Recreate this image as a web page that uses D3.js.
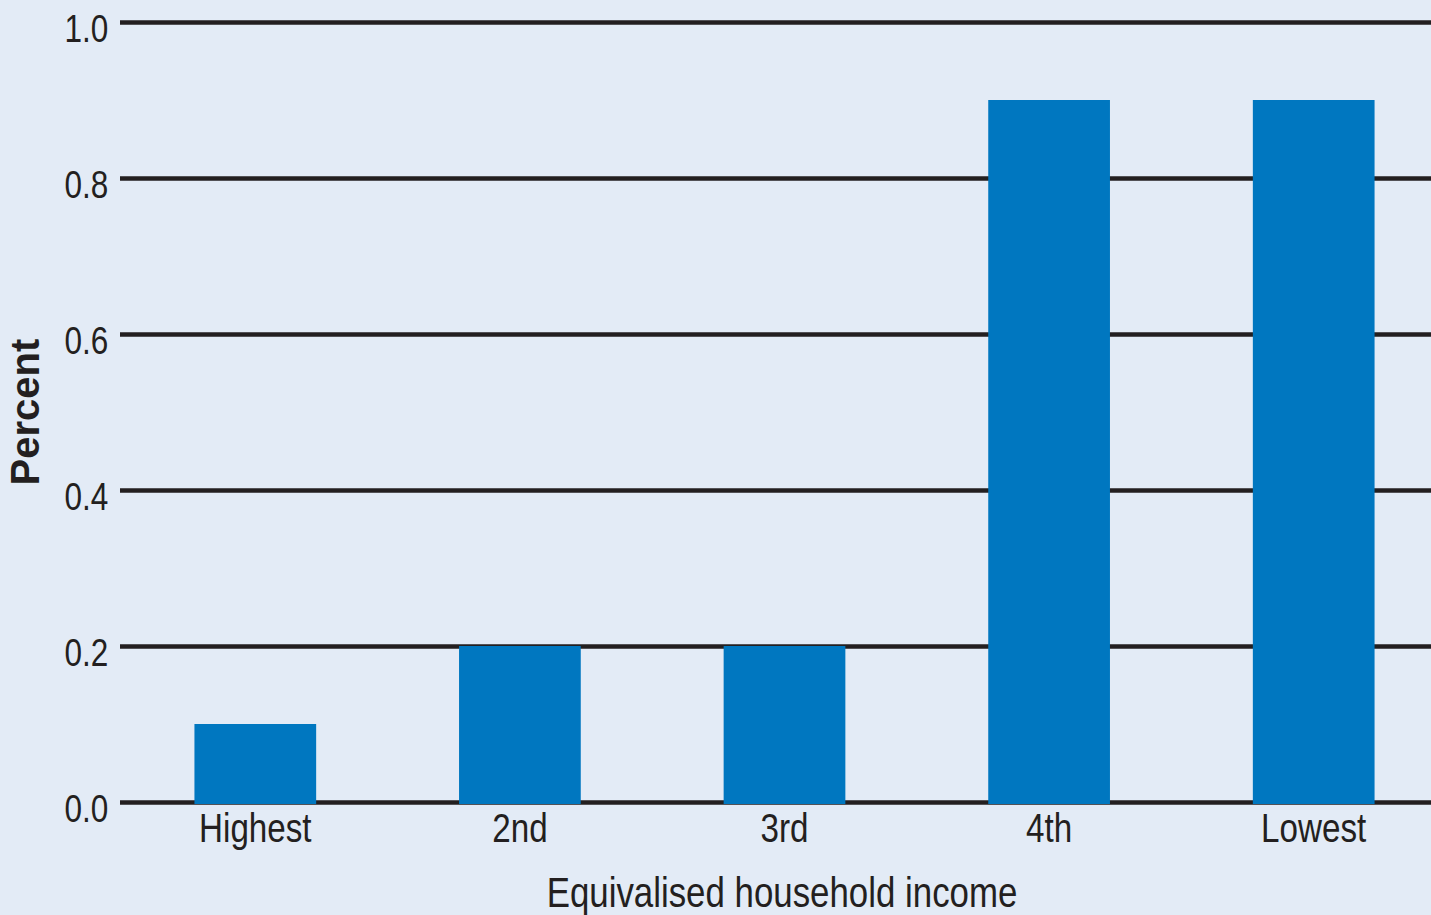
<!DOCTYPE html>
<html>
<head>
<meta charset="utf-8">
<script src="https://cdn.jsdelivr.net/npm/d3@7"></script>
<style>
  html, body { margin: 0; padding: 0; background: #e3ebf6; }
  svg { display: block; }
  .tick text, .lbl { font-family: "Liberation Sans", Arial, sans-serif; fill: #231f20; }
</style>
</head>
<body>
<div id="chart"></div>
<script>
// income quintiles and percent values
const categories = ["Highest", "2nd", "3rd", "4th", "Lowest"];
const values = [0.1, 0.2, 0.2, 0.9, 0.9];
const yTicks = [0, 0.2, 0.4, 0.6, 0.8, 1.0];

const W = 1431, H = 915;
const margin = { left: 120, top: 22, bottom: 113 };
const squeeze = "scale(0.83,1)"; // original type is condensed

const svg = d3.select("#chart").append("svg")
  .attr("width", W)
  .attr("height", H);

svg.append("rect").attr("width", W).attr("height", H).attr("fill", "#e3ebf6");

const x = d3.scaleBand()
  .domain(categories)
  .range([123, 1446])
  .paddingInner(0.54)
  .paddingOuter(0.27);

const y = d3.scaleLinear()
  .domain([0, 1])
  .range([H - margin.bottom, margin.top]);

// gridlines + y labels
const gy = svg.append("g")
  .attr("transform", `translate(${margin.left},0)`)
  .call(d3.axisLeft(y)
    .tickValues(yTicks)
    .tickFormat(d3.format(".1f"))
    .tickSize(-(W - margin.left))
    .tickPadding(14));
gy.select(".domain").remove();
gy.selectAll(".tick line")
  .attr("stroke", "#231f20")
  .attr("stroke-width", 4.5);
gy.selectAll(".tick text")
  .attr("font-size", 38)
  .attr("dy", "0.5em")
  .attr("transform", squeeze);

// bars
svg.append("g").selectAll("rect")
  .data(values)
  .enter().append("rect")
  .attr("x", (d, i) => x(categories[i]))
  .attr("y", d => y(d))
  .attr("width", x.bandwidth())
  .attr("height", d => y(0) - y(d) + 2)
  .attr("fill", "#0077c0");

// x labels
const gx = svg.append("g")
  .attr("transform", `translate(0,${y(0)})`)
  .call(d3.axisBottom(x).tickSize(0).tickPadding(14));
gx.select(".domain").remove();
gx.selectAll(".tick text")
  .attr("font-size", 40)
  .attr("dy", "0.66em")
  .attr("transform", squeeze);

// axis titles
svg.append("text")
  .attr("class", "lbl")
  .attr("transform", `translate(782,907) ${squeeze}`)
  .attr("text-anchor", "middle")
  .attr("font-size", 42)
  .text("Equivalised household income");

svg.append("text")
  .attr("class", "lbl")
  .attr("transform", "translate(39,412) rotate(-90)")
  .attr("text-anchor", "middle")
  .attr("font-size", 40)
  .attr("font-weight", "bold")
  .text("Percent");
</script>
</body>
</html>
